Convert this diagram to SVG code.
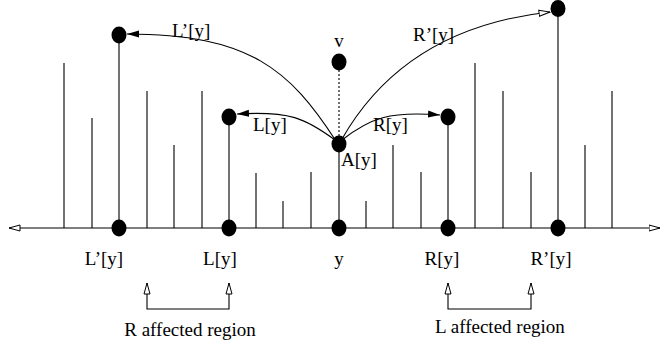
<svg xmlns="http://www.w3.org/2000/svg" width="663" height="345" viewBox="0 0 663 345">
<style>
.ln{stroke:#000;stroke-width:1.1;fill:none}
.nd{fill:#000}
.t{font-family:"Liberation Serif","Times New Roman",serif;font-size:19px;fill:#000}
</style>
<defs>
<marker id="af" viewBox="0 0 12 8" refX="12" refY="4" markerUnits="userSpaceOnUse" markerWidth="12" markerHeight="8" orient="auto"><path d="M0,0.5 L12,4 L0,7.5 z" fill="#000"/></marker>
<marker id="ao" viewBox="0 0 12 8" refX="11.5" refY="4" markerUnits="userSpaceOnUse" markerWidth="12" markerHeight="8" orient="auto-start-reverse"><path d="M0.5,1 L11.5,4 L0.5,7 z" fill="#fff" stroke="#000" stroke-width="1"/></marker>
</defs>
<g id="bars">
<path class="ln" d="M64,228V63 M92,228V118 M147,228V91 M174,228V145 M202,228V91 M256,228V173 M283,228V201 M311,228V172 M366,228V201 M393,228V145 M421,228V172 M475,228V63 M503,228V91 M531,228V172 M585,228V145 M612,228V91"/>
<path class="ln" d="M119,228V35 M229,228V117 M339,228V144 M448,228V117 M558,228V9"/>
</g>
<g id="axis"><path class="ln" d="M9,228H660" marker-start="url(#ao)" marker-end="url(#ao)"/></g>
<g id="node-Lp-top"><ellipse class="nd" cx="119" cy="35" rx="7.5" ry="8.5"/></g>
<g id="node-L-top"><ellipse class="nd" cx="229" cy="117" rx="7.5" ry="8.5"/></g>
<g id="node-v"><ellipse class="nd" cx="339" cy="62" rx="7.5" ry="8.5"/><text class="t" x="339" y="47" text-anchor="middle">v</text></g>
<g id="node-A"><ellipse class="nd" cx="339" cy="144" rx="7.5" ry="8.5"/><text class="t" x="341" y="166">A[y]</text></g>
<g id="node-R-top"><ellipse class="nd" cx="448" cy="117" rx="7.5" ry="8.5"/></g>
<g id="node-Rp-top"><ellipse class="nd" cx="558" cy="8.5" rx="7.5" ry="8.5"/></g>
<g id="node-Lp"><ellipse class="nd" cx="119" cy="228" rx="7.5" ry="8.5"/><text class="t" x="104" y="265" text-anchor="middle">L’[y]</text></g>
<g id="node-L"><ellipse class="nd" cx="229" cy="228" rx="7.5" ry="8.5"/><text class="t" x="220" y="265" text-anchor="middle">L[y]</text></g>
<g id="node-y"><ellipse class="nd" cx="339" cy="228" rx="7.5" ry="8.5"/><text class="t" x="339" y="265" text-anchor="middle">y</text></g>
<g id="node-R"><ellipse class="nd" cx="448" cy="228" rx="7.5" ry="8.5"/><text class="t" x="442" y="265" text-anchor="middle">R[y]</text></g>
<g id="node-Rp"><ellipse class="nd" cx="558" cy="228" rx="7.5" ry="8.5"/><text class="t" x="551" y="265" text-anchor="middle">R’[y]</text></g>
<g id="connectors">
<path class="ln" d="M339,62V144" stroke-dasharray="2,2"/>
<path class="ln" d="M336,141 C290,70 250,34 127,34" marker-end="url(#af)"/>
<path class="ln" d="M335,140 C305,118 290,111 237,114" marker-end="url(#af)"/>
<path class="ln" d="M342,140 C370,118 390,111 440,115" marker-end="url(#af)"/>
<path class="ln" d="M342,139 C378,76 440,24 550,12" marker-end="url(#ao)"/>
<text class="t" x="172" y="37">L’[y]</text>
<text class="t" x="253" y="131">L[y]</text>
<text class="t" x="373" y="131">R[y]</text>
<text class="t" x="413" y="41">R’[y]</text>
</g>
<g id="region-R">
<path class="ln" d="M147,283V309H229V283" marker-start="url(#ao)" marker-end="url(#ao)"/>
<text class="t" x="190" y="336" text-anchor="middle">R affected region</text>
</g>
<g id="region-L">
<path class="ln" d="M448,283V309H531V283" marker-start="url(#ao)" marker-end="url(#ao)"/>
<text class="t" x="500" y="333" text-anchor="middle">L affected region</text>
</g>
</svg>
